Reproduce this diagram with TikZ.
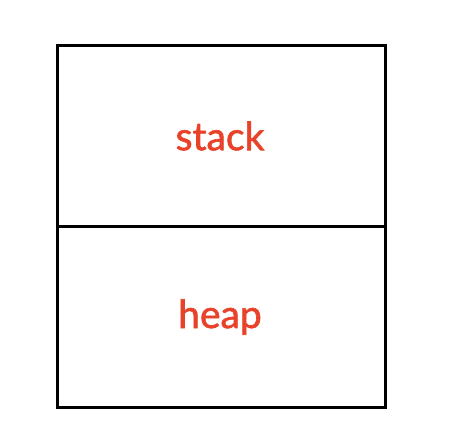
\documentclass[tikz,border=0pt]{standalone}
\usepackage{fontspec}
\setmainfont{Lato}
\newfontfamily\lblfont{Lato}[FakeBold=1.6]
\definecolor{labelred}{RGB}{232,67,42}
\begin{document}
\begin{tikzpicture}[x=1pt,y=-1pt,
  cell/.style={draw=black,line width=2.6pt,minimum width=328pt,inner sep=0pt,anchor=north west},
  lbl/.style={text=labelred,font=\lblfont\fontsize{39}{41}\selectfont}]
\useasboundingbox (0,0) rectangle (460,446);
\node[cell,minimum height=181pt] (stack) at (56,44) {};
\node[cell,minimum height=181pt] (heap) at (56,225) {};
\node[lbl] (stacklbl) at (220,136) {stack};
\node[lbl] (heaplbl) at (220,317) {heap};
\end{tikzpicture}
\end{document}
